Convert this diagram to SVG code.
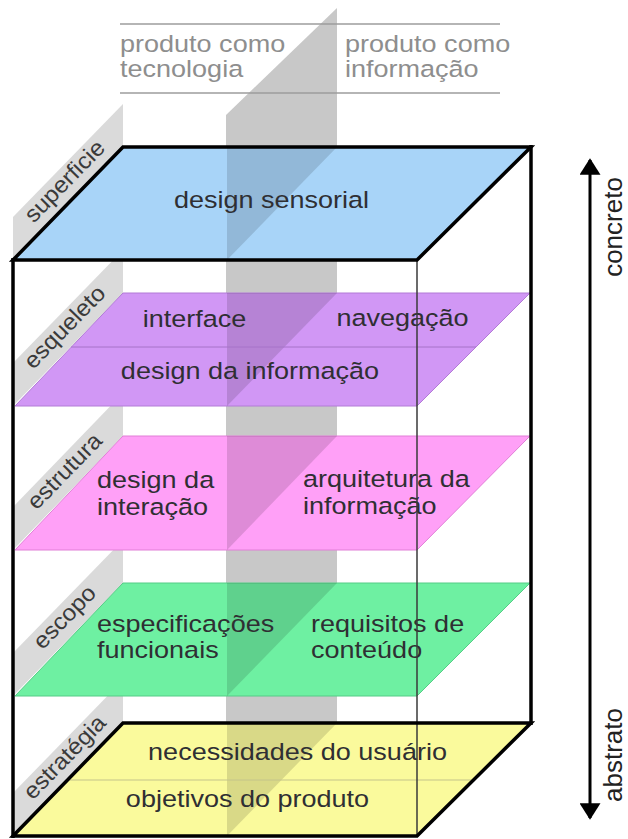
<svg xmlns="http://www.w3.org/2000/svg" width="628" height="839" viewBox="0 0 628 839">
<style>
.t { font-family: "Liberation Sans", Arial, sans-serif; font-size: 23.5px; fill: #2f2f33; }
.top { fill: #8e8e8e; }
.lbl { font-family: "Liberation Sans", Arial, sans-serif; font-size: 23px; fill: #3a3a3a; }
.ax { font-family: "Liberation Sans", Arial, sans-serif; font-size: 26px; fill: #222; }
.shade { fill: #000; fill-opacity: 0.13; }
.tab { fill: #dadada; }
.band { fill: #c8c8c8; }
.rule { stroke: #9c9c9c; stroke-width: 1.5; }
.thick { stroke: #000; stroke-width: 3.5; fill: none; stroke-linejoin: miter; }
.thin { stroke: #3a3a3a; stroke-width: 1.5; }
</style>
<defs>
<marker id="ah" viewBox="0 0 10 10" refX="9" refY="5" markerWidth="5.5" markerHeight="7" markerUnits="strokeWidth" orient="auto-start-reverse" preserveAspectRatio="none">
<path d="M0,0 L10,5 L0,10 z" fill="#000"/>
</marker>
</defs>
<rect width="628" height="839" fill="#fff"/>

<g id="band">
<polygon class="band" points="226,115 337,8 337,723 226,836"/>
</g>

<g id="header">
<line class="rule" x1="120" y1="24" x2="500" y2="24"/>
<line class="rule" x1="120" y1="93" x2="500" y2="93"/>
<text class="t top" transform="translate(120,52) scale(1.15,1)">produto como</text>
<text class="t top" transform="translate(120,77) scale(1.15,1)">tecnologia</text>
<text class="t top" transform="translate(345,52) scale(1.15,1)">produto como</text>
<text class="t top" transform="translate(345,77) scale(1.15,1)">informação</text>
</g>

<g id="tab-superficie">
<polygon class="tab" points="13,260 123,147 123,104 13,217"/>
<text class="lbl" text-anchor="middle" transform="translate(70,186.4) rotate(-45.77) scale(1.06,1)">superficie</text>
</g>
<g id="tab-esqueleto">
<polygon class="tab" points="13,406 123,293 123,250 13,363"/>
<text class="lbl" text-anchor="middle" transform="translate(70,332.4) rotate(-45.77) scale(1.06,1)">esqueleto</text>
</g>
<g id="tab-estrutura">
<polygon class="tab" points="13,550 123,436 123,393 13,507"/>
<text class="lbl" text-anchor="middle" transform="translate(70,476.4) rotate(-45.77) scale(1.06,1)">estrutura</text>
</g>
<g id="tab-escopo">
<polygon class="tab" points="13,696 123,583 123,540 13,653"/>
<text class="lbl" text-anchor="middle" transform="translate(70,622.4) rotate(-45.77) scale(1.06,1)">escopo</text>
</g>
<g id="tab-estrategia">
<polygon class="tab" points="13,836 123,723 123,680 13,793"/>
<text class="lbl" text-anchor="middle" transform="translate(70,762.4) rotate(-45.77) scale(1.06,1)">estratégia</text>
</g>

<g id="superficie">
<polygon points="13,260 123,147 530,147 417,260" fill="#a8d4f8"/>
<polygon class="shade" points="227,147 337,147 227,260"/>
<text class="t" text-anchor="middle" transform="translate(271.5,208) scale(1.15,1)">design sensorial</text>
</g>

<g id="esqueleto">
<polygon points="15,406 123,293 530,293 417,406" fill="#d197f5" stroke="#b27ad6" stroke-width="1"/>
<polygon class="shade" points="227,293 337,293 227,406"/>
<line x1="71" y1="347" x2="476" y2="347" stroke="#a672c8" stroke-width="1"/>
<text class="t" text-anchor="middle" transform="translate(194.5,327) scale(1.15,1)">interface</text>
<text class="t" text-anchor="middle" transform="translate(402.5,326) scale(1.15,1)">navegação</text>
<text class="t" text-anchor="middle" transform="translate(250,379) scale(1.15,1)">design da informação</text>
</g>

<g id="estrutura">
<polygon points="15,550 123,436 530,436 417,550" fill="#ffa0f7" stroke="#e07fd6" stroke-width="1"/>
<polygon class="shade" points="227,436 337,436 227,550"/>
<text class="t" transform="translate(97,488) scale(1.15,1)">design da</text>
<text class="t" transform="translate(97,515) scale(1.15,1)">interação</text>
<text class="t" transform="translate(303,487) scale(1.15,1)">arquitetura da</text>
<text class="t" transform="translate(303,514) scale(1.15,1)">informação</text>
</g>

<g id="escopo">
<polygon points="15,696 123,583 530,583 417,696" fill="#6ef0a2" stroke="#55cc86" stroke-width="1"/>
<polygon class="shade" points="227,583 337,583 227,696"/>
<text class="t" transform="translate(97,632) scale(1.15,1)">especificações</text>
<text class="t" transform="translate(97,658) scale(1.15,1)">funcionais</text>
<text class="t" transform="translate(311,632) scale(1.15,1)">requisitos de</text>
<text class="t" transform="translate(311,658) scale(1.15,1)">conteúdo</text>
</g>

<g id="estrategia">
<polygon points="13,836 123,723 531,723 417,836" fill="#fafa9c"/>
<polygon class="shade" points="227,723 337,723 227,836"/>
<line x1="67" y1="780" x2="472" y2="780" stroke="#c4c48a" stroke-width="1"/>
<text class="t" text-anchor="middle" transform="translate(297.5,760) scale(1.15,1)">necessidades do usuário</text>
<text class="t" text-anchor="middle" transform="translate(247.5,807) scale(1.15,1)">objetivos do produto</text>
</g>

<g id="cube">
<line class="thin" x1="417" y1="260" x2="417" y2="836"/>
<line class="thick" x1="13" y1="258" x2="13" y2="838"/>
<line class="thick" x1="531" y1="145" x2="531" y2="725"/>
<polygon class="thick" points="13,260 123,147 531,147 417,260"/>
<polygon class="thick" points="13,836 123,723 531,723 417,836"/>
</g>

<g id="connectors">
<line x1="590" y1="160" x2="590" y2="818" stroke="#000" stroke-width="3" marker-start="url(#ah)" marker-end="url(#ah)"/>
</g>

<g id="axis-labels">
<text class="ax" text-anchor="middle" transform="translate(622,227) rotate(-90)">concreto</text>
<text class="ax" text-anchor="middle" transform="translate(622,755) rotate(-90)">abstrato</text>
</g>
</svg>
